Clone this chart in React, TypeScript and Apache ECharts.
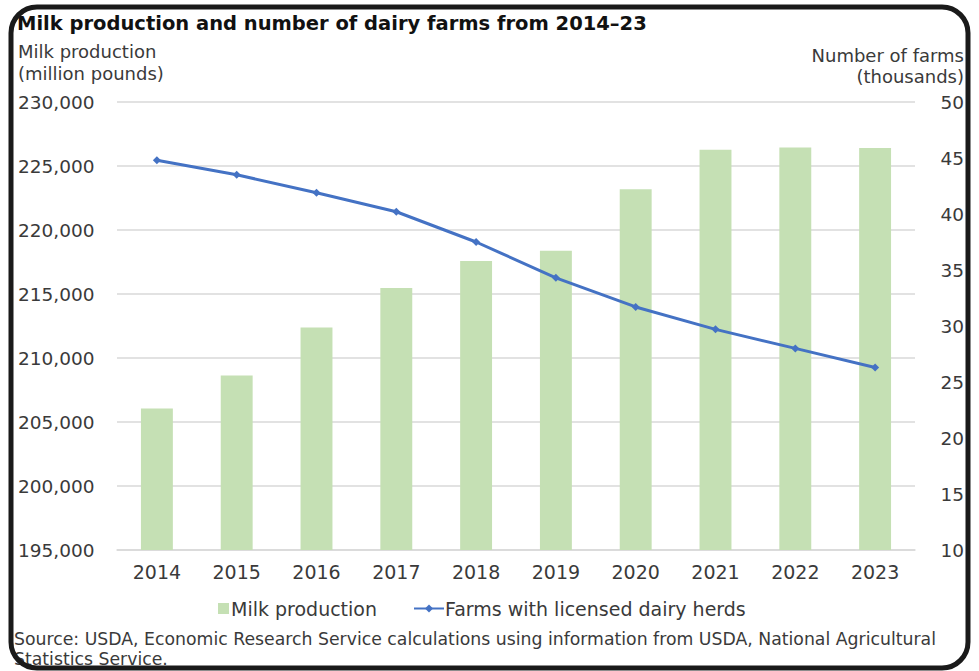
import React, { useEffect, useRef } from "react";
import * as echarts from "echarts";

const years = ["2014", "2015", "2016", "2017", "2018", "2019", "2020", "2021", "2022", "2023"];
const milkProduction = [206050, 208630, 212380, 215470, 217580, 218380, 223180, 226260, 226450, 226400];
const farms = [44.8, 43.5, 41.9, 40.2, 37.5, 34.3, 31.7, 29.7, 28.0, 26.3];

const FONT = "DejaVu Sans";
const TXT = "#3a3a3a";

export default function App() {
  const ref = useRef<HTMLDivElement>(null);
  useEffect(() => {
    if (!ref.current) return;
    const chart = echarts.init(ref.current, null, { renderer: "svg" });
    chart.setOption({
      animation: false,
      backgroundColor: "#ffffff",
      textStyle: { fontFamily: FONT },
      grid: { left: 117, right: 64, top: 102, bottom: 121 },
      legend: [
        {
          data: [{ name: "Milk production", icon: "rect" }],
          left: 213,
          top: 594,
          itemWidth: 11,
          itemHeight: 11,
          itemGap: 2,
          textStyle: { fontFamily: FONT, fontSize: 19, color: TXT, padding: [0, 0, 0, -3] },
        },
        {
          data: ["Farms with licensed dairy herds"],
          left: 408,
          top: 594,
          itemWidth: 30,
          itemHeight: 10,
          textStyle: { fontFamily: FONT, fontSize: 19, color: TXT, padding: [0, 0, 0, -4] },
        },
      ],
      xAxis: {
        type: "category",
        data: years,
        axisLine: { show: true, lineStyle: { color: "#d9d9d9", width: 1.5 } },
        axisTick: { show: false },
        axisLabel: { color: TXT, fontSize: 19, fontFamily: FONT, margin: 12 },
      },
      yAxis: [
        {
          type: "value",
          min: 195000,
          max: 230000,
          interval: 5000,
          position: "left",
          axisLine: { show: false },
          axisTick: { show: false },
          splitLine: { lineStyle: { color: "#d9d9d9", width: 1.5 } },
          axisLabel: {
            color: TXT,
            fontSize: 18.5,
            fontFamily: FONT,
            align: "left",
            margin: 99,
            formatter: (v: number) => v.toLocaleString("en-US"),
          },
        },
        {
          type: "value",
          min: 10,
          max: 50,
          interval: 5,
          position: "right",
          axisLine: { show: false },
          axisTick: { show: false },
          splitLine: { show: false },
          axisLabel: { color: TXT, fontSize: 18.5, fontFamily: FONT, align: "right", margin: 49 },
        },
      ],
      series: [
        {
          name: "Milk production",
          type: "bar",
          data: milkProduction,
          barWidth: "40%",
          itemStyle: { color: "#c5e0b4" },
          yAxisIndex: 0,
        },
        {
          name: "Farms with licensed dairy herds",
          type: "line",
          data: farms,
          yAxisIndex: 1,
          symbol: "diamond",
          symbolSize: 8,
          lineStyle: { color: "#4472c4", width: 3 },
          itemStyle: { color: "#4472c4" },
          z: 5,
        },
      ],
      graphic: [
        {
          type: "text",
          x: 17,
          y: 13,
          style: {
            text: "Milk production and number of dairy farms from 2014–23",
            font: `bold 19.5px "${FONT}"`,
            fill: "#111111",
          },
        },
        {
          type: "text",
          x: 18,
          y: 42,
          style: { text: "Milk production", font: `18px "${FONT}"`, fill: TXT },
        },
        {
          type: "text",
          x: 18,
          y: 64,
          style: { text: "(million pounds)", font: `18px "${FONT}"`, fill: TXT },
        },
        {
          type: "text",
          x: 964,
          y: 46,
          style: { text: "Number of farms", font: `18px "${FONT}"`, align: "right", fill: TXT },
        },
        {
          type: "text",
          x: 964,
          y: 67,
          style: { text: "(thousands)", font: `18px "${FONT}"`, align: "right", fill: TXT },
        },
        {
          type: "text",
          x: 14,
          y: 630,
          style: {
            text: "Source: USDA, Economic Research Service calculations using information from USDA, National Agricultural",
            font: `17.3px "${FONT}"`,
            fill: TXT,
          },
        },
        {
          type: "text",
          x: 14,
          y: 650,
          style: { text: "Statistics Service.", font: `17.3px "${FONT}"`, fill: TXT },
        },
        {
          type: "rect",
          shape: { x: 11, y: 7, width: 957, height: 661, r: 26 },
          style: { fill: "none", stroke: "#1a1a1a", lineWidth: 5 },
          z: 100,
        },
      ],
    });
    return () => chart.dispose();
  }, []);
  return <div ref={ref} style={{ width: 979, height: 671, position: "absolute", left: 0, top: 0 }} />;
}
